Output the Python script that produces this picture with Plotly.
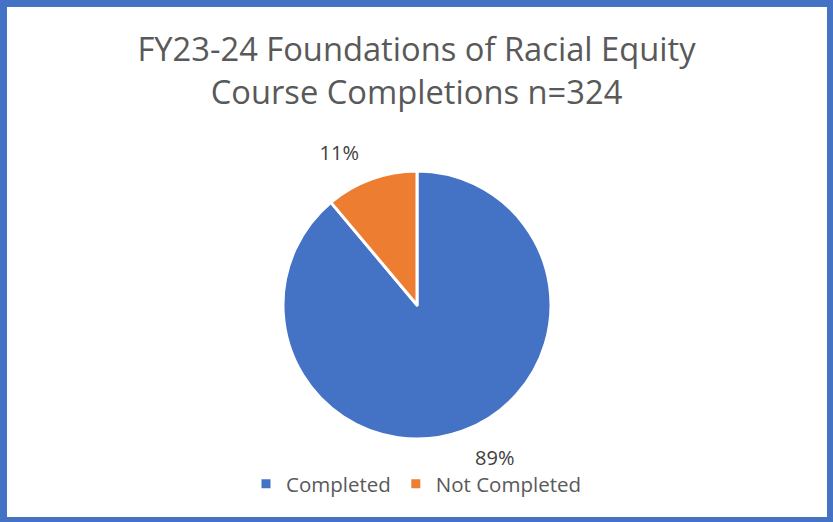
import plotly.graph_objects as go

labels = ["Completed", "Not Completed"]
values = [288, 36]
colors = ["#4472C4", "#ED7D31"]
title_lines = ["FY23-24 Foundations of Racial Equity", "Course Completions n=324"]

W, H = 833, 522
CX, CY = 417, 305
R = 134       # visible pie radius (px)
R_LBL = 150   # radius of the transparent pie that carries the outside labels


def dom(r):
    return dict(x=[CX / W - r / W, CX / W + r / W], y=[(H - CY - r) / H, (H - CY + r) / H])


fig = go.Figure()
# transparent pie that only positions the percentage labels
fig.add_trace(go.Pie(
    labels=labels, values=values, sort=False, direction="clockwise", rotation=0,
    marker=dict(colors=["rgba(0,0,0,0)"] * len(values), line=dict(width=0)),
    texttemplate="%{percent:.0%}", textposition="outside",
    textfont=dict(family="Open Sans", size=20, color="#404040"),
    domain=dom(R_LBL), showlegend=False, hoverinfo="skip",
))
# visible pie
fig.add_trace(go.Pie(
    labels=labels, values=values, sort=False, direction="clockwise", rotation=0,
    marker=dict(colors=colors, line=dict(color="white", width=3)),
    textinfo="none",
    domain=dom(R),
    hoverinfo="label+percent",
))

border = "#4472C4"
shapes = [
    dict(type="rect", xref="paper", yref="paper", x0=0, x1=7 / W, y0=0, y1=1, fillcolor=border, line_width=0),
    dict(type="rect", xref="paper", yref="paper", x0=1 - 6 / W, x1=1, y0=0, y1=1, fillcolor=border, line_width=0),
    dict(type="rect", xref="paper", yref="paper", x0=0, x1=1, y0=1 - 7 / H, y1=1, fillcolor=border, line_width=0),
    dict(type="rect", xref="paper", yref="paper", x0=0, x1=1, y0=0, y1=5 / H, fillcolor=border, line_width=0),
]

fig.update_layout(
    width=W, height=H,
    margin=dict(l=0, r=0, t=0, b=0),
    paper_bgcolor="white", plot_bgcolor="white",
    title=dict(text="<br>".join(title_lines), x=0.5, xanchor="center", y=1 - 61 / H, yanchor="top",
               font=dict(family="Open Sans", size=32.7, color="#595959")),
    legend=dict(orientation="h", x=0.5, xanchor="center", y=(H - 484) / H, yanchor="middle",
                bgcolor="rgba(0,0,0,0)",
                font=dict(family="Open Sans", size=20.5, color="#595959"), itemwidth=30),
    shapes=shapes,
)
fig.write_html("out.html", config={"displayModeBar": False},
               post_script="document.body.style.margin='0';document.body.style.overflow='hidden';")
